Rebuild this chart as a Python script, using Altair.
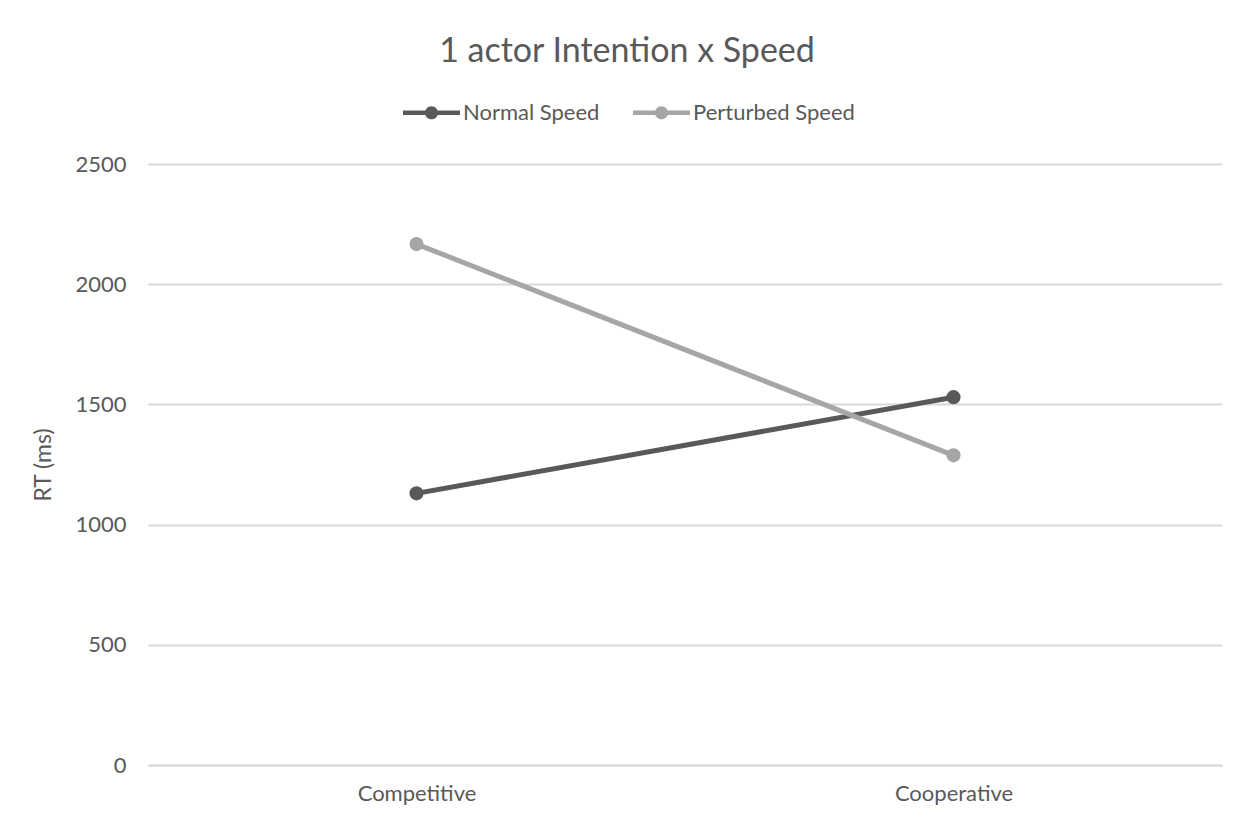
import altair as alt
import pandas as pd

categories = ["Competitive", "Cooperative"]
series_names = ["Normal Speed", "Perturbed Speed"]
normal_speed = [1130, 1530]
perturbed_speed = [2167, 1288]
y_ticks = [0, 500, 1000, 1500, 2000, 2500]
colors = ["#595959", "#a6a6a6"]

rows = []
for name, vals in zip(series_names, [normal_speed, perturbed_speed]):
    for c, v in zip(categories, vals):
        rows.append({"Intention": c, "RT": v, "Series": name, "LineSeries": name})
df = pd.DataFrame(rows)

FONT = "Lato"
TXT = "#595959"
GRID = "#d9d9d9"

# legend symbol: line with a dot in the middle (unit square coordinates)
SYMBOL = (
    "M -1 -0.075 L -0.2 -0.075 L -0.2 0.075 L -1 0.075 Z "
    "M 0.2 -0.075 L 1 -0.075 L 1 0.075 L 0.2 0.075 Z "
    "M 0.23 0 A 0.23 0.23 0 1 1 -0.23 0 A 0.23 0.23 0 1 1 0.23 0 Z"
)

x_enc = alt.X(
    "Intention:N",
    sort=categories,
    scale=alt.Scale(type="point", padding=0.5),
    axis=alt.Axis(
        title=None, labelAngle=0, ticks=False, domainColor=GRID, domainWidth=2,
        labelFont=FONT, labelFontSize=22, labelColor=TXT, labelPadding=18, grid=False,
    ),
)
y_enc = alt.Y(
    "RT:Q",
    scale=alt.Scale(domain=[0, 2500], nice=False),
    axis=alt.Axis(
        title="RT (ms)", values=y_ticks, format="d", domain=False, ticks=False,
        grid=True, gridColor=GRID, gridWidth=2, labelFont=FONT, labelFontSize=22,
        labelColor=TXT, labelPadding=22, titleFont=FONT, titleFontSize=23,
        titleColor=TXT, titleFontWeight="normal", titlePadding=19,
    ),
)

lines = alt.Chart(df).mark_line(strokeWidth=5).encode(
    x=x_enc,
    y=y_enc,
    stroke=alt.Stroke(
        "LineSeries:N",
        scale=alt.Scale(domain=series_names, range=colors),
        legend=None,
    ),
)

points = alt.Chart(df).mark_point(filled=True, size=200, opacity=1).encode(
    x=x_enc,
    y=y_enc,
    fill=alt.Fill(
        "Series:N",
        scale=alt.Scale(domain=series_names, range=colors),
        legend=alt.Legend(
            title=None, orient="none", direction="horizontal",
            legendX=255, legendY=-80,
            symbolType=SYMBOL, symbolSize=3249, symbolStrokeWidth=0,
            symbolOpacity=1, labelFont=FONT, labelFontSize=22, labelColor=TXT,
            labelOffset=3, columnPadding=33, labelLimit=400,
        ),
    ),
)

chart = (
    alt.layer(lines, points)
    .resolve_scale(fill="independent", stroke="independent")
    .properties(
        width=1074,
        height=601,
        background="white",
        autosize=alt.AutoSizeParams(type="none"),
        padding={"left": 140, "top": 156, "right": 27, "bottom": 52},
        title=alt.TitleParams(
            "1 actor Intention x Speed", font=FONT, fontSize=34,
            fontWeight="normal", color=TXT, anchor="middle", offset=15, dx=-58,
        ),
    )
    .configure_view(stroke="transparent", strokeWidth=0)
)

chart.save("out.html", embed_options={"renderer": "svg", "actions": False})
